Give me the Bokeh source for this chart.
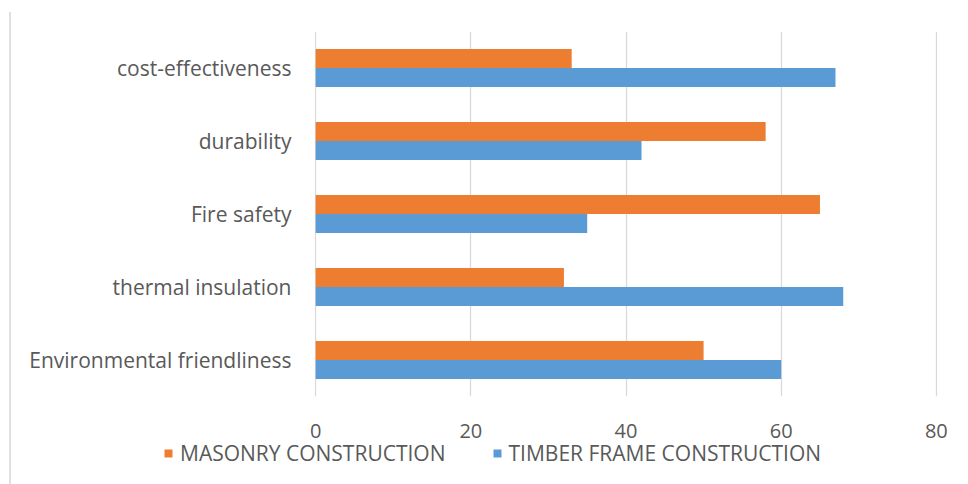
from bokeh.plotting import figure
from bokeh.models import FactorRange, Range1d, Legend, LegendItem, ColumnDataSource, FixedTicker
from bokeh.transform import dodge
from bokeh.embed import file_html
from bokeh.resources import INLINE

categories = ["Environmental friendliness", "thermal insulation", "Fire safety", "durability", "cost-effectiveness"]
masonry = [50, 32, 65, 58, 33]
timber = [60, 68, 35, 42, 67]
series_names = ["MASONRY CONSTRUCTION", "TIMBER FRAME CONSTRUCTION"]
series_colors = ["#ED7D31", "#5B9BD5"]
x_ticks = [0, 20, 40, 60, 80]

FONT = "Open Sans"
TXT = "#595959"
EDGE = {"border-left": "2px solid #E0E0E0", "margin-left": "9px"}

src = ColumnDataSource(dict(cat=categories, masonry=masonry, timber=timber))

p = figure(width=957, height=442, output_backend="svg", toolbar_location=None,
           y_range=FactorRange(factors=categories, range_padding=0),
           x_range=Range1d(-0.15, 80.15),
           min_border_left=303, min_border_top=19, min_border_right=31, min_border_bottom=58)

p.hbar(y=dodge("cat", 0.13, range=p.y_range), right="masonry", left=0, height=0.26,
       source=src, color=series_colors[0], line_color=None)
p.hbar(y=dodge("cat", -0.13, range=p.y_range), right="timber", left=0, height=0.26,
       source=src, color=series_colors[1], line_color=None)

p.outline_line_color = None
p.ygrid.grid_line_color = None
p.xgrid.grid_line_color = "#D9D9D9"
p.xgrid.grid_line_width = 1.3
p.xaxis.ticker = FixedTicker(ticks=x_ticks)

for ax in (p.xaxis, p.yaxis):
    ax.axis_line_color = None
    ax.major_tick_line_color = None
    ax.minor_tick_line_color = None
    ax.major_label_text_font = FONT
    ax.major_label_text_color = TXT
p.yaxis.major_label_text_font_size = "21px"
p.xaxis.major_label_text_font_size = "20px"
p.xaxis.major_label_standoff = 21
p.yaxis.major_label_standoff = 17
p.styles = dict(EDGE, **{"margin-top": "12px"})

# legend strip (separate transparent root, pulled up over the blank bottom of the chart)
q = figure(width=957, height=50, output_backend="svg", toolbar_location=None,
           x_range=Range1d(0, 1), y_range=Range1d(0, 1), min_border=0)
q.axis.visible = False
q.grid.visible = False
q.outline_line_color = None
q.background_fill_alpha = 0
q.border_fill_alpha = 0
lr1 = q.hbar(y=[-5], left=[0], right=[1], height=0.1, color=series_colors[0], line_color=None)
lr2 = q.hbar(y=[-5], left=[0], right=[1], height=0.1, color=series_colors[1], line_color=None)
legend = Legend(items=[LegendItem(label=series_names[0], renderers=[lr1]),
                       LegendItem(label=series_names[1], renderers=[lr2])],
                orientation="horizontal", location=(152, 17),
                label_text_font=FONT, label_text_color=TXT, label_text_font_size="21px",
                glyph_width=10, glyph_height=10, spacing=46, padding=0, margin=0,
                label_standoff=7, border_line_color=None, background_fill_alpha=0)
q.add_layout(legend, "center")
q.styles = dict(EDGE, **{"margin-top": "-20px"})

open("out.html", "w").write(file_html([p, q], INLINE))
